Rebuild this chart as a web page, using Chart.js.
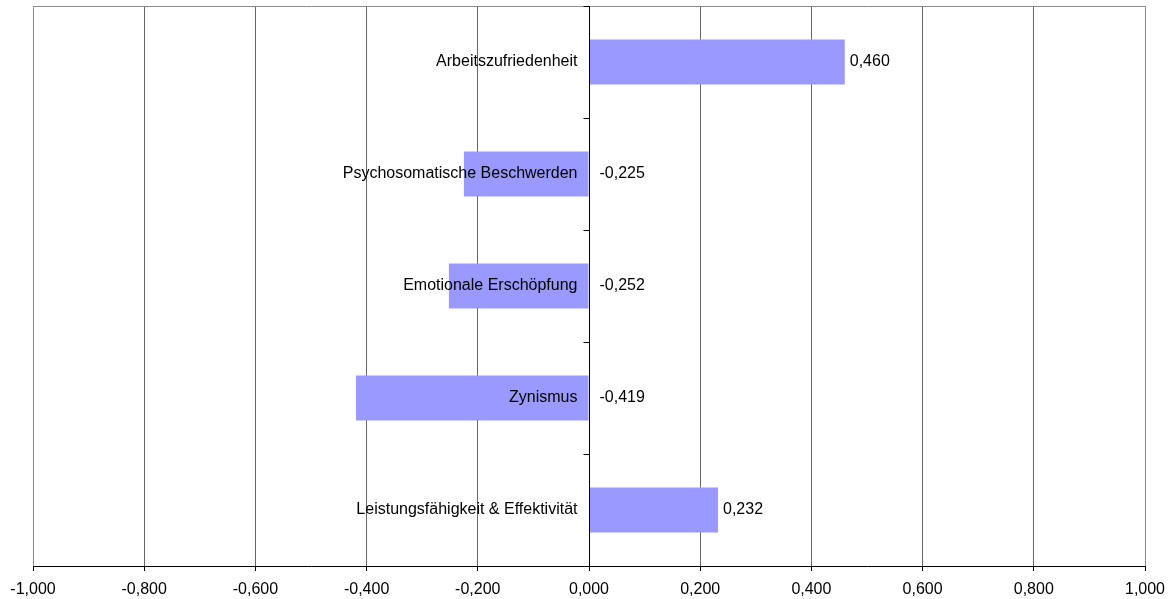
<!DOCTYPE html>
<html>
<head>
<meta charset="utf-8">
<script src="https://cdn.jsdelivr.net/npm/chart.js@4/dist/chart.umd.min.js"></script>
<style>
  html, body { margin: 0; padding: 0; background: #fff; }
  #wrap { width: 1171px; height: 599px; }
</style>
</head>
<body>
<div id="wrap"><canvas id="c" width="1171" height="599"></canvas></div>
<script>
const categories = [
  'Arbeitszufriedenheit',
  'Psychosomatische Beschwerden',
  'Emotionale Erschöpfung',
  'Zynismus',
  'Leistungsfähigkeit & Effektivität'
];
const values = [0.460, -0.225, -0.252, -0.419, 0.232];
const xMin = -1;
const xMax = 1;
const xStep = 0.2;

const FONT = '"Liberation Sans", Arial, sans-serif';
const fmt = v => v.toFixed(3).replace('.', ',');

// Frame, zero line with category tick marks, and text labels
const overlay = {
  id: 'overlay',
  beforeDatasetsDraw(chart) {
    const { ctx, chartArea: a } = chart;
    ctx.save();
    ctx.strokeStyle = '#8c8c8c';
    ctx.lineWidth = 1;
    ctx.beginPath();
    ctx.moveTo(Math.round(a.left) + 0.5, a.bottom);
    ctx.lineTo(Math.round(a.left) + 0.5, Math.round(a.top) + 0.5);
    ctx.lineTo(Math.round(a.right) + 0.5, Math.round(a.top) + 0.5);
    ctx.lineTo(Math.round(a.right) + 0.5, a.bottom);
    ctx.stroke();
    ctx.restore();
  },
  afterDatasetsDraw(chart) {
    const { ctx, chartArea: a, scales } = chart;
    const x = scales.x, y = scales.y;
    const x0 = Math.round(x.getPixelForValue(0)) + 0.5;
    ctx.save();
    // zero line
    ctx.strokeStyle = '#000';
    ctx.lineWidth = 1;
    ctx.beginPath();
    ctx.moveTo(x0, a.top);
    ctx.lineTo(x0, a.bottom);
    // tick marks between categories
    const n = categories.length;
    for (let i = 0; i <= n; i++) {
      const yp = Math.round(a.top + (a.bottom - a.top) * i / n) + 0.5;
      ctx.moveTo(x0 - 6, yp);
      ctx.lineTo(x0, yp);
    }
    ctx.stroke();

    ctx.font = '16px ' + FONT;
    ctx.fillStyle = '#000';
    ctx.textBaseline = 'middle';
    categories.forEach((cat, i) => {
      const yc = y.getPixelForValue(i);
      ctx.textAlign = 'right';
      ctx.fillText(cat, x0 - 12, yc);
      const v = values[i];
      ctx.textAlign = 'left';
      const xv = v >= 0 ? x.getPixelForValue(v) + 5 : x0 + 10;
      ctx.fillText(fmt(v), xv, yc);
    });
    ctx.restore();
  }
};

new Chart(document.getElementById('c'), {
  type: 'bar',
  data: {
    labels: categories,
    datasets: [{
      data: values,
      backgroundColor: '#9999FF',
      borderWidth: 0,
      categoryPercentage: 1,
      barPercentage: 0.4
    }]
  },
  options: {
    indexAxis: 'y',
    responsive: false,
    animation: false,
    devicePixelRatio: 1,
    layout: { padding: { left: 33, right: 26, top: 6, bottom: 0 } },
    plugins: { legend: { display: false }, tooltip: { enabled: false } },
    scales: {
      x: {
        type: 'linear',
        min: xMin,
        max: xMax,
        ticks: {
          stepSize: xStep,
          color: '#000',
          padding: 9,
          font: { family: FONT, size: 16 },
          callback: v => fmt(v)
        },
        grid: {
          color: ctx => (ctx.tick && (ctx.tick.value === xMin || ctx.tick.value === xMax)) ? '#8c8c8c' : '#666666',
          tickColor: '#000',
          tickLength: 5,
          drawTicks: true
        },
        border: { display: true, color: '#000', width: 1 },
        afterFit: s => {
          s.height = 33;
          s.paddingLeft = 0;
          s.paddingRight = 0;
        }
      },
      y: {
        display: false,
        grid: { display: false }
      }
    }
  },
  plugins: [overlay]
});
</script>
</body>
</html>
